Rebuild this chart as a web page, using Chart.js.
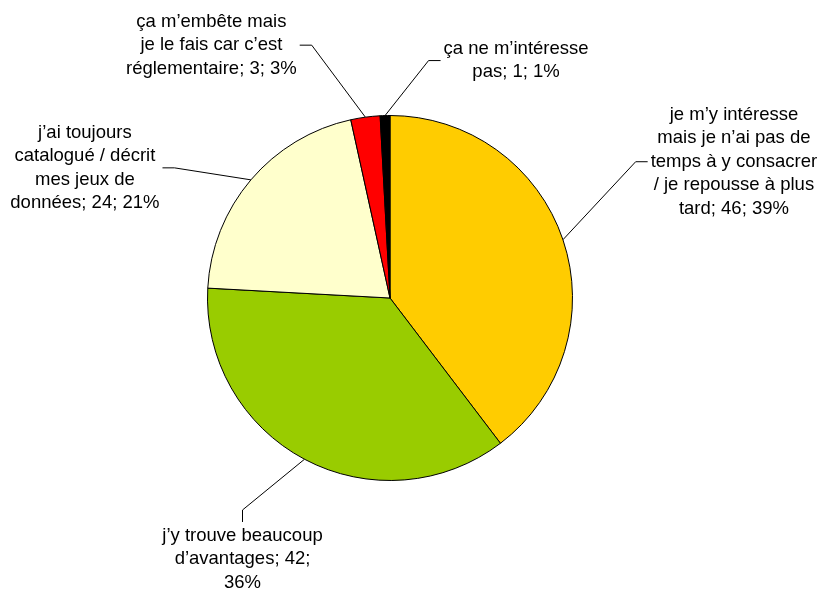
<!DOCTYPE html>
<html>
<head>
<meta charset="utf-8">
<script src="https://cdn.jsdelivr.net/npm/chart.js@4"></script>
<style>
  body { margin: 0; background: white; }
</style>
</head>
<body>
<canvas id="myChart" width="821" height="589"></canvas>
<script>
// category text (line breaks as in the original labels)
const categories = [
  'je m’y intéresse\nmais je n’ai pas de\ntemps à y consacrer\n/ je repousse à plus\ntard',
  'j’y trouve beaucoup\nd’avantages',
  'j’ai toujours\ncatalogué / décrit\nmes jeux de\ndonnées',
  'ça m’embête mais\nje le fais car c’est\nréglementaire',
  'ça ne m’intéresse\npas'
];
const values = [46, 42, 24, 3, 1];
const percents = [39, 36, 21, 3, 1];
const colors = ['#FFCC00', '#99CC00', '#FFFFCC', '#FF0000', '#000000'];

// where each label sits, relative to the slice edge it points at
const labelOffsets = [
  { dx: 171, dy: -78 },
  { dx: -62, dy: 100 },
  { dx: -166, dy: -12 },
  { dx: -154, dy: -72 },
  { dx: 131, dy: -55 }
];

const FONT = '18.5px "Liberation Sans", Arial, sans-serif';
const LINE_H = 23.5;
const WRAP = 175;

function wrapLine(ctx, text) {
  var words = text.split(' ');
  var out = [];
  var cur = '';
  words.forEach(function (w) {
    var test = cur ? cur + ' ' + w : w;
    if (cur && ctx.measureText(test).width > WRAP) {
      out.push(cur);
      cur = w;
    } else {
      cur = test;
    }
  });
  if (cur) out.push(cur);
  return out;
}

const pieLabels = {
  id: 'pieLabels',
  afterDraw(chart) {
    const ctx = chart.ctx;
    const meta = chart.getDatasetMeta(0);
    ctx.save();
    ctx.font = FONT;
    ctx.fillStyle = '#000';
    ctx.strokeStyle = '#000';
    ctx.lineWidth = 1;
    ctx.textAlign = 'center';
    ctx.textBaseline = 'middle';

    meta.data.forEach(function (arc, i) {
      const p = arc.getProps(['x', 'y', 'startAngle', 'endAngle', 'outerRadius'], true);
      const mid = (p.startAngle + p.endAngle) / 2;
      const ax = p.x + Math.cos(mid) * p.outerRadius;
      const ay = p.y + Math.sin(mid) * p.outerRadius;

      const text = categories[i] + '; ' + values[i] + '; ' + percents[i] + '%';
      let lines = [];
      text.split('\n').forEach(function (l) { lines = lines.concat(wrapLine(ctx, l)); });

      const cx = ax + labelOffsets[i].dx;
      const cy = ay + labelOffsets[i].dy;
      const w = Math.max.apply(null, lines.map(function (l) { return ctx.measureText(l).width; }));
      const h = lines.length * LINE_H;

      // leader line: short stub off the nearest side, then to the slice
      let ex, ey, sx, sy;
      const ox = labelOffsets[i].dx, oy = labelOffsets[i].dy;
      if (Math.abs(ox) >= Math.abs(oy)) {
        const side = ox > 0 ? -1 : 1;
        ex = cx + side * (w / 2 + 3); ey = cy;
        sx = ex + side * 12; sy = ey;
      } else {
        const side = oy > 0 ? -1 : 1;
        ex = cx; ey = cy + side * (h / 2 + 2);
        sx = ex; sy = ey + side * 12;
      }
      ctx.beginPath();
      ctx.moveTo(ex, ey);
      ctx.lineTo(sx, sy);
      ctx.lineTo(ax, ay);
      ctx.stroke();

      lines.forEach(function (l, k) {
        ctx.fillText(l, cx, cy - h / 2 + LINE_H * (k + 0.5));
      });
    });
    ctx.restore();
  }
};

const chartCtx = document.getElementById('myChart').getContext('2d');
new Chart(chartCtx, {
  type: 'pie',
  data: {
    labels: categories,
    datasets: [{
      data: values,
      backgroundColor: colors,
      borderColor: '#000',
      borderWidth: 1,
      hoverOffset: 0
    }]
  },
  options: {
    responsive: false,
    animation: false,
    layout: { padding: { left: 207, right: 248, top: 115, bottom: 108 } },
    plugins: {
      legend: { display: false },
      tooltip: { enabled: false }
    }
  },
  plugins: [pieLabels]
});
</script>
</body>
</html>
